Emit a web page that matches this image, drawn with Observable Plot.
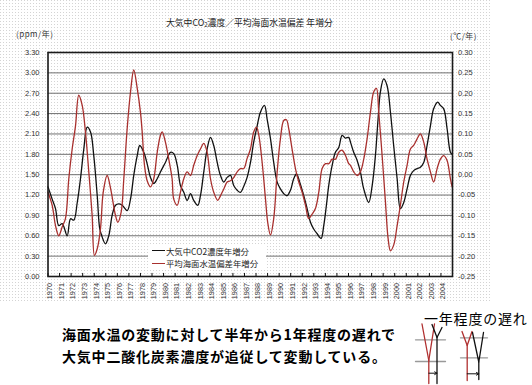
<!DOCTYPE html>
<html lang="ja">
<head>
<meta charset="utf-8">
<script src="https://cdn.jsdelivr.net/npm/d3@7"></script>
<script src="https://cdn.jsdelivr.net/npm/@observablehq/plot@0.6"></script>
<style>
  html, body { margin: 0; padding: 0; background: #fff; }
  #page { position: relative; width: 532px; height: 385px; overflow: hidden; font-family: "Noto Sans CJK JP", sans-serif; }
  #dots { position: absolute; left: 0; top: 0; width: 492px; height: 303px;
    background-image: url("data:image/svg+xml;utf8,<svg xmlns='http://www.w3.org/2000/svg' width='3' height='3'><rect width='1' height='1' fill='%23d4d4d4'/></svg>"); }
  #chart { position: absolute; left: 0; top: 0; }
  .abs { position: absolute; white-space: nowrap; }
  #title { left: 166px; top: 18.5px; font-size: 8.8px; line-height: 8.8px; color: #222; }
  #title sub { font-size: 6px; vertical-align: -1px; line-height: 0; }
  #unitL { left: 16px; top: 30px; font-size: 8px; line-height: 8px; letter-spacing: 0.5px; color: #333; }
  #unitR { left: 450px; top: 32px; font-size: 8px; line-height: 8px; letter-spacing: 0.5px; color: #333; }
  #legend { left: 148px; top: 244px; width: 118px; height: 25px; background: #fff; }
  .sw { position: absolute; left: 4px; width: 13px; height: 1.4px; }
  .lt { position: absolute; left: 18px; font-size: 8.4px; line-height: 12px; color: #222; }
  .note { font-size: 14px; line-height: 14px; font-weight: bold; letter-spacing: 0.8px; color: #000; }
  #lag { left: 424px; top: 310.5px; font-size: 14px; line-height: 14px; letter-spacing: 0.8px; color: #000; }
  #sketch { position: absolute; left: 410px; top: 322px; }
</style>
</head>
<body>
<div id="page">
  <div id="dots"></div>
  <div id="chart"></div>
  <div class="abs" id="title">大気中CO<sub>2</sub>濃度／平均海面水温偏差 年増分</div>
  <div class="abs" id="unitL">(ppm/年)</div>
  <div class="abs" id="unitR">(℃/年)</div>
  <div class="abs" id="legend">
    <span class="sw" style="top:6px;background:#111"></span>
    <span class="lt" style="top:0.5px">大気中CO2濃度年増分</span>
    <span class="sw" style="top:18.6px;background:#a8302e"></span>
    <span class="lt" style="top:13px">平均海面水温偏差年増分</span>
  </div>
  <div class="abs note" style="left:62px;top:326.5px">海面水温の変動に対して半年から1年程度の遅れで</div>
  <div class="abs note" style="left:62px;top:349px">大気中二酸化炭素濃度が追従して変動している。</div>
  <div class="abs" id="lag">一年程度の遅れ</div>
  <div id="sketch"></div>
</div>
<script>
// ---- data ----
const years = [1970,1971,1972,1973,1974,1975,1976,1977,1978,1979,1980,1981,1982,1983,1984,1985,1986,1987,1988,1989,1990,1991,1992,1993,1994,1995,1996,1997,1998,1999,2000,2001,2002,2003,2004];
const leftTicks = [0.00,0.30,0.60,0.90,1.20,1.50,1.80,2.10,2.40,2.70,3.00,3.30];
const leftTickLabels = ["0.00","0.30","0.60","0.90","1.20","1.50","1.80","2.10","2.40","2.70","3.00","3.30"];
const rightTickLabels = ["-0.25","-0.20","-0.15","-0.10","-0.05","0.00","0.05","0.10","0.15","0.20","0.25","0.30"];

// 大気中CO2濃度年増分 (ppm/年)
const co2Time = [1970.00,1970.36,1970.65,1970.93,1971.23,1971.66,1971.95,1972.23,1972.53,1972.81,1973.10,1973.39,1973.68,1973.96,1974.26,1974.48,1974.69,1974.97,1975.26,1975.55,1975.84,1976.12,1976.42,1976.85,1977.14,1977.42,1977.72,1977.94,1978.29,1978.58,1978.87,1979.15,1979.45,1979.73,1980.16,1980.60,1980.88,1981.18,1981.46,1981.75,1982.04,1982.33,1982.61,1982.96,1983.19,1983.48,1983.77,1984.06,1984.34,1984.64,1984.92,1985.21,1985.50,1985.79,1986.07,1986.37,1986.65,1986.94,1987.23,1987.52,1987.80,1988.10,1988.38,1988.73,1988.96,1989.25,1989.53,1989.83,1990.11,1990.40,1990.69,1990.98,1991.26,1991.50,1991.78,1992.13,1992.42,1992.71,1992.99,1993.29,1993.63,1993.86,1994.09,1994.29,1994.59,1994.87,1995.16,1995.45,1995.74,1996.02,1996.17,1996.45,1996.75,1997.03,1997.32,1997.75,1998.05,1998.33,1998.56,1998.76,1999.05,1999.34,1999.63,1999.91,2000.21,2000.49,2000.78,2001.07,2001.36,2001.64,2001.94,2002.22,2002.51,2002.80,2003.09,2003.37,2003.72,2003.95,2004.24,2004.53,2004.82,2004.97];
const co2Rate = [1.32,1.14,1.00,0.75,0.78,0.60,0.85,0.83,1.09,1.44,1.88,2.20,2.13,1.78,1.19,0.70,0.58,0.48,0.60,0.90,1.05,1.07,1.05,0.97,1.14,1.49,1.78,1.93,1.83,1.66,1.46,1.37,1.44,1.54,1.68,1.83,1.81,1.64,1.34,1.24,1.12,1.22,1.12,1.05,1.19,1.54,1.88,2.05,1.93,1.68,1.49,1.39,1.46,1.49,1.34,1.27,1.24,1.33,1.46,1.68,1.98,2.22,2.42,2.52,2.32,2.03,1.68,1.39,1.29,1.22,1.19,1.27,1.44,1.51,1.39,1.19,1.00,0.80,0.70,0.63,0.56,0.75,1.05,1.34,1.64,1.83,1.90,2.08,2.04,2.05,1.98,1.83,1.71,1.54,1.29,1.09,1.34,1.78,2.32,2.72,2.91,2.81,2.42,1.93,1.44,1.00,1.09,1.29,1.49,1.56,1.59,1.61,1.68,1.93,2.22,2.47,2.57,2.52,2.47,2.18,1.83,1.80];

// 平均海面水温偏差年増分 (℃/年)
const sstTime = [1970.00,1970.36,1970.65,1970.93,1971.23,1971.51,1971.80,1972.09,1972.38,1972.66,1972.96,1973.24,1973.53,1973.82,1974.02,1974.26,1974.54,1974.78,1975.12,1975.41,1975.84,1976.04,1976.33,1976.56,1976.85,1977.14,1977.42,1977.72,1978.00,1978.15,1978.35,1978.58,1978.87,1979.15,1979.45,1979.73,1979.88,1980.16,1980.45,1980.74,1980.88,1981.18,1981.46,1981.75,1982.04,1982.33,1982.61,1982.91,1983.19,1983.48,1983.77,1984.06,1984.34,1984.69,1984.92,1985.21,1985.50,1985.79,1986.07,1986.37,1986.65,1986.94,1987.23,1987.52,1987.80,1988.04,1988.24,1988.53,1988.82,1989.01,1989.25,1989.53,1989.83,1990.11,1990.40,1990.63,1990.83,1991.12,1991.41,1991.70,1991.99,1992.28,1992.56,1992.85,1993.14,1993.43,1993.72,1994.01,1994.29,1994.59,1994.87,1995.16,1995.45,1995.74,1996.02,1996.17,1996.45,1996.75,1997.03,1997.32,1997.61,1997.90,1998.18,1998.42,1998.62,1998.91,1999.20,1999.43,1999.63,1999.91,2000.21,2000.49,2000.78,2001.07,2001.36,2001.64,2001.94,2002.22,2002.51,2002.80,2003.09,2003.37,2003.67,2003.95,2004.24,2004.53,2004.82,2004.97];
const sstRate = [-0.043,-0.075,-0.125,-0.150,-0.128,-0.108,-0.010,0.063,0.120,0.195,0.170,0.105,0.007,-0.100,-0.198,-0.182,-0.133,-0.043,-0.002,-0.033,-0.100,-0.117,-0.092,-0.010,0.113,0.203,0.257,0.212,0.153,0.105,0.023,-0.015,-0.030,-0.010,0.055,0.097,0.105,0.080,0.038,-0.010,-0.060,-0.075,-0.043,-0.010,0.007,-0.002,0.023,0.047,0.063,0.077,0.055,-0.010,-0.043,-0.063,-0.052,-0.035,-0.018,-0.015,-0.007,0.007,0.015,0.015,0.040,0.063,0.105,0.117,0.097,0.030,-0.060,-0.117,-0.148,-0.108,0.007,0.088,0.133,0.135,0.113,0.063,0.015,-0.018,-0.043,-0.075,-0.108,-0.097,-0.083,-0.043,0.015,0.027,0.027,0.038,0.038,0.055,0.060,0.047,0.027,0.023,0.007,-0.002,0.007,0.038,0.088,0.153,0.203,0.212,0.153,0.047,-0.068,-0.157,-0.187,-0.173,-0.125,-0.075,-0.018,0.023,0.063,0.072,0.088,0.100,0.080,0.038,0.007,-0.018,0.015,0.038,0.047,0.035,-0.010,-0.030];

// sketch (illustration of the lag), in local sketch units
const sketchLines = [
  {c: "#999", pts: [[5,17.3],[35,17.3]]},
  {c: "#999", pts: [[5,39],[35,39]]},
  {c: "#999", pts: [[50,15.3],[77,15.3]]},
  {c: "#999", pts: [[50,35.3],[77,35.3]]},
  {c: "#b03030", pts: [[11.5,1.5],[18.3,38],[18.3,61]]},
  {c: "#b03030", pts: [[24,1.5],[18.3,38]]},
  {c: "#111", pts: [[21.5,2],[26.5,15],[31.5,5]]},
  {c: "#111", pts: [[26.5,15],[26.5,61]]},
  {c: "#b03030", pts: [[51.5,9],[56.7,23],[61.5,9]]},
  {c: "#b03030", pts: [[56.7,23],[56.7,58]]},
  {c: "#111", pts: [[62,10],[68.3,39.5],[73,10]]},
  {c: "#111", pts: [[68.3,39.5],[68.3,57]]}
];
const sketchArrows = [
  {x1: 18.3, x2: 26.5, y: 50.7},
  {x1: 56.7, x2: 68.3, y: 51.3}
];

// ---- build ----
const co2 = co2Time.map((t, i) => ({t, v: co2Rate[i]}));
const sst = sstTime.map((t, i) => ({t, v: sstRate[i]}));
// right axis: 0.30 ppm on the left ↔ 0.05 ℃ on the right, 1.50 ↔ 0.00
const sstToLeft = c => c * 6 + 1.5;

const chart = Plot.plot({
  width: 532,
  height: 305,
  marginLeft: 47.5,
  marginRight: 80,
  marginTop: 52,
  marginBottom: 29,
  x: {domain: [1970, 2005], axis: null},
  y: {domain: [0, 3.3], axis: null},
  style: {background: "transparent", fontFamily: "'Liberation Sans', 'Noto Sans CJK JP', sans-serif", fontSize: "7.5px", color: "#333"},
  marks: [
    Plot.ruleY(leftTicks, {stroke: "#707070", strokeWidth: 1}),
    Plot.axisY({ticks: leftTicks, tickFormat: d => leftTickLabels[Math.round(d / 0.3)], tickSize: 0, tickPadding: 8.5, label: null}),
    Plot.axisY({anchor: "right", ticks: leftTicks, tickFormat: d => rightTickLabels[Math.round(d / 0.3)], tickSize: 0, tickPadding: 5.5, label: null}),
    Plot.ruleX(years, {x: d => d, y1: 0, y2: 0.045, stroke: "#111"}),
    Plot.text(years, {x: d => d, y: 0, text: d => String(d), rotate: -90, textAnchor: "end", lineAnchor: "middle", dy: 6.5, dx: 2, fontSize: 7.3, fill: "#333"}),
    Plot.line(co2, {x: "t", y: "v", stroke: "#111", strokeWidth: 1.3, curve: "catmull-rom"}),
    Plot.line(sst, {x: "t", y: d => sstToLeft(d.v), stroke: "#a8302e", strokeWidth: 1.3, curve: "catmull-rom"}),
    Plot.frame({stroke: "#1a1a1a", strokeWidth: 1.6})
  ]
});
document.getElementById("chart").appendChild(chart);

const lineRows = sketchLines.flatMap((s, k) => s.pts.map(p => ({k, c: s.c, x: p[0], y: p[1]})));
const sketch = Plot.plot({
  width: 122,
  height: 63,
  margin: 0,
  x: {domain: [0, 122], axis: null},
  y: {domain: [63, 0], axis: null},
  style: {background: "transparent", overflow: "visible"},
  marks: [
    Plot.line(lineRows, {x: "x", y: "y", z: "k", stroke: "c", strokeWidth: 1.3}),
    Plot.arrow(sketchArrows, {x1: "x1", x2: "x2", y1: "y", y2: "y", stroke: "#111", strokeWidth: 1, headLength: 4})
  ]
});
document.getElementById("sketch").appendChild(sketch);
</script>
</body>
</html>
